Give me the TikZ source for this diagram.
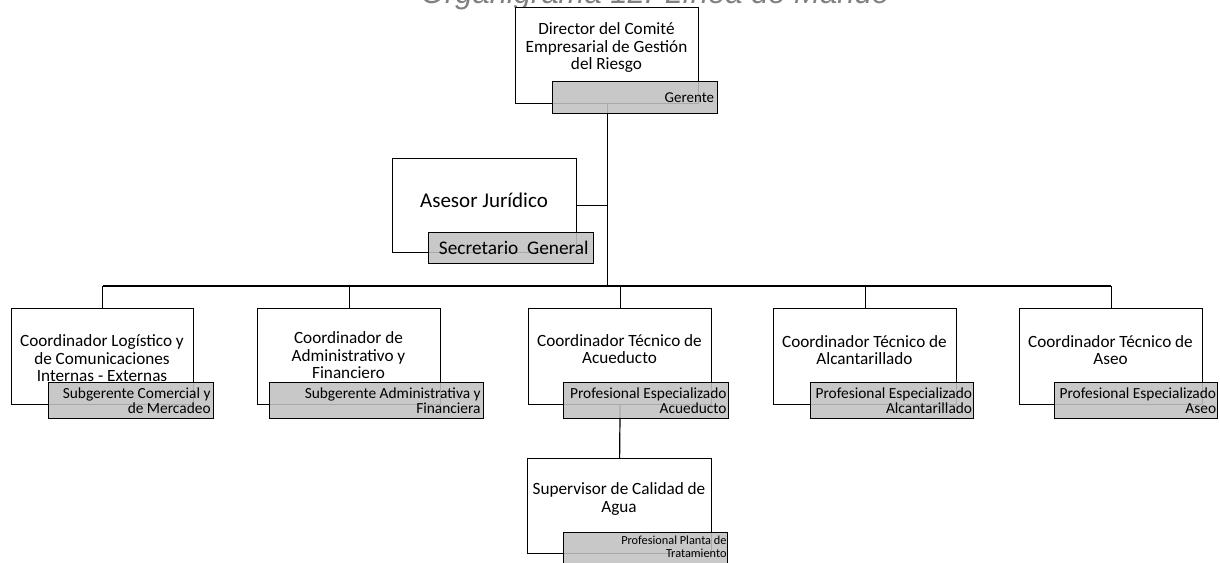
\documentclass[tikz,border=0pt]{standalone}
\usepackage{fontspec}
\setmainfont{Carlito}
\newfontfamily\titlefont{Liberation Sans}
\definecolor{grayfill}{RGB}{193,193,193}
\definecolor{titlegray}{RGB}{128,128,128}
\begin{document}
\begin{tikzpicture}[x=1pt,y=-1pt,
  wbox/.style={draw=black, line width=1.2pt, fill=white, inner sep=0pt, anchor=north west, minimum width=183pt, minimum height=96pt},
  gbox/.style={draw=black, line width=1.2pt, fill=grayfill, fill opacity=0.88, text opacity=1, inner xsep=2pt, inner ysep=0pt, anchor=north west, align=flush right, text width=161pt, minimum height=36pt, font=\fontsize{15.4}{15}\selectfont},
  gtext/.style={align=flush right, inner xsep=1.5pt, inner ysep=3.5pt, anchor=north east, font=\fontsize{12.3}{13}\selectfont},
  wtext/.style={align=center, inner sep=0pt, font=\fontsize{17.2}{17.5}\selectfont},
  conn/.style={draw=black, line width=1.2pt}
]
\useasboundingbox (0,0) rectangle (1220,562);
\clip (0,0) rectangle (1220,562);

\node[font=\titlefont\itshape\fontsize{31}{31}\selectfont, text=titlegray, anchor=base, inner sep=0pt] (title) at (655,3.5) {Organigrama 12. Línea de Mando};

% white boxes
\node[wbox] (dir) at (515,7) {};
\node[wbox, minimum width=184pt, minimum height=94pt] (ases) at (392,158) {};
\node[wbox, minimum width=182pt] (c1) at (11,308) {};
\node[wbox] (c2) at (257,308) {};
\node[wbox] (c3) at (528,308) {};
\node[wbox] (c4) at (773,308) {};
\node[wbox] (c5) at (1019,308) {};
\node[wbox, minimum width=184pt, minimum height=95pt] (sup) at (527,458) {};

% connectors
\coordinate (bar) at (0,286);
\draw[conn] (dir.south) -- (dir.south |- bar);
\draw[conn] (ases.east) -- (ases.east -| dir.south);
\draw[conn] (c1.north |- bar) -- (c5.north |- bar);
\draw[conn] (c1.north) -- (c1.north |- bar);
\draw[conn] (c2.north) -- (c2.north |- bar);
\draw[conn] (c3.north) -- (c3.north |- bar);
\draw[conn] (c4.north) -- (c4.north |- bar);
\draw[conn] (c5.north) -- (c5.north |- bar);
\draw[conn] (c3.south) -- (sup.north);

% gray boxes
\node[gbox, minimum height=32pt, inner xsep=3.5pt, text width=158pt, font=\fontsize{15}{15}\selectfont] (dirg) at (552,81) {Gerente};
\node[gbox, minimum height=31pt, inner xsep=5pt, text width=155pt, font=\fontsize{19.3}{19}\selectfont] (asesg) at (428,232) {Secretario\hspace{0.45em}General};
\node[gbox, inner xsep=3pt, text width=159pt] (c1g) at (48,382) {Subgerente Comercial y\\de Mercadeo};
\node[gbox, inner xsep=3pt, text width=208pt] (c2g) at (269,382) {Subgerente Administrativa y\\Financiera};
\node[gbox] (c3g) at (563,382) {Profesional Especializado\\Acueducto};
\node[gbox, inner xsep=1.5pt, text width=160pt] (c4g) at (810,382) {Profesional Especializado\\Alcantarillado};
\node[gbox, inner xsep=1.5pt, text width=160pt] (c5g) at (1054,382) {Profesional Especializado\\Aseo};
\node[gbox, text width=160pt, minimum height=40pt] (supg) at (563,532) {};
\node[gtext] (supgt) at (supg.north east) {Profesional Planta de\\Tratamiento};

% texts
\node[wtext] (dirt) at (606.5,48) {Director del Comité\\Empresarial de Gestión\\del Riesgo};
\node[wtext, font=\fontsize{21}{21}\selectfont] (asest) at (484,200) {Asesor Jurídico};
\node[wtext] (c1t) at (102,358.5) {Coordinador Logístico y\\de Comunicaciones\\Internas - Externas};
\node[wtext] (c2t) at (348.5,355.5) {Coordinador de\\Administrativo y\\Financiero};
\node[wtext] (c3t) at (619.5,349) {Coordinador Técnico de\\Acueducto};
\node[wtext] (c4t) at (864.5,350) {Coordinador Técnico de\\Alcantarillado};
\node[wtext] (c5t) at (1110.5,350) {Coordinador Técnico de\\Aseo};
\node[wtext] (supt) at (619,499) {Supervisor de Calidad de\\Agua};
\end{tikzpicture}
\end{document}
